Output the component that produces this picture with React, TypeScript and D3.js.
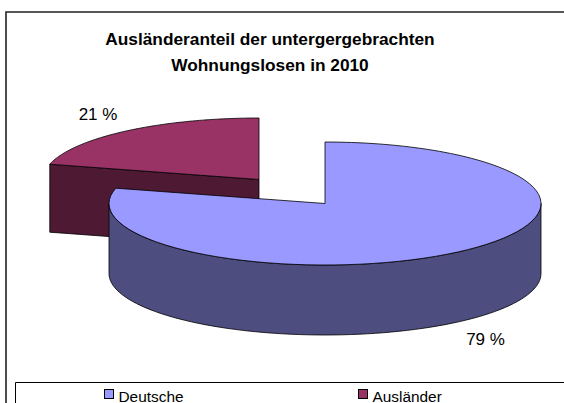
import React from "react";
import * as d3 from "d3";

const categories = ["Deutsche", "Ausländer"];
const shares = [79, 21];
const shareLabels = ["79 %", "21 %"];
const titleLines = ["Ausländeranteil der untergergebrachten", "Wohnungslosen in 2010"];
const topColors = ["#9999ff", "#993366"];
const sideColors = ["#4d4d80", "#4d1933"];

const width = 564;
const height = 403;
const font = "'Liberation Sans', Arial, sans-serif";

// pie ellipse
const rx = 216;
const ry = 61.5;
const centers = [
  { x: 325, y: 203.5, depth: 70 },
  { x: 259, y: 179.5, depth: 68 },
];

const slices = d3.pie<number>().sort(null)(shares);

const point = (c: { x: number; y: number }, a: number, dy = 0): [number, number] => [
  c.x + rx * Math.sin(a),
  c.y - ry * Math.cos(a) + dy,
];

const arcPoints = (c: { x: number; y: number }, a0: number, a1: number, dy = 0) => {
  const n = 80;
  const angle = d3.scaleLinear().domain([0, n]).range([a0, a1]);
  return d3.range(n + 1).map((i) => point(c, angle(i), dy));
};

const line = d3.line();

function topPath(i: number) {
  const c = centers[i];
  const s = slices[i];
  return line([[c.x, c.y], ...arcPoints(c, s.startAngle, s.endAngle)]) + "Z";
}

// front wall of the big slice, only the part facing the viewer
function bluePath() {
  const c = centers[0];
  const a0 = Math.PI / 2;
  const a1 = (Math.PI * 3) / 2;
  return line([...arcPoints(c, a0, a1), ...arcPoints(c, a1, a0, c.depth)]) + "Z";
}

// cut face of the small slice
function redPath() {
  const c = centers[1];
  const a = slices[1].startAngle;
  return line([point(c, a), [c.x, c.y], [c.x, c.y + c.depth], point(c, a, c.depth)]) + "Z";
}

export default function App() {
  return (
    <svg
      width={width}
      height={height}
      style={{ position: "absolute", left: 0, top: 0, background: "#fff" }}
    >
      <path d={`M6,${height}V12H${width}`} fill="none" stroke="#222" strokeWidth={1.6} />

      {titleLines.map((t, i) => (
        <text
          key={t}
          x={270}
          y={45 + i * 26}
          textAnchor="middle"
          fontFamily={font}
          fontSize={17.3}
          fontWeight="bold"
        >
          {t}
        </text>
      ))}

      <g stroke="#000" strokeWidth={0.8} strokeLinejoin="round">
        <path d={redPath()} fill={sideColors[1]} />
        <path d={topPath(1)} fill={topColors[1]} />
        <path d={bluePath()} fill={sideColors[0]} />
        <path d={topPath(0)} fill={topColors[0]} />
      </g>

      <text x={485.5} y={345} textAnchor="middle" fontFamily={font} fontSize={17}>
        {shareLabels[0]}
      </text>
      <text x={98} y={120} textAnchor="middle" fontFamily={font} fontSize={17}>
        {shareLabels[1]}
      </text>

      <path d={`M15.5,${height}V382.5H${width}`} fill="none" stroke="#000" strokeWidth={1} />
      {categories.map((name, i) => {
        const x = 104.5 + i * 254;
        return (
          <g key={name}>
            <rect x={x} y={389.5} width={9} height={9} fill={topColors[i]} stroke="#000" strokeWidth={1} />
            <text x={x + 14} y={402} fontFamily={font} fontSize={15.4}>
              {name}
            </text>
          </g>
        );
      })}
    </svg>
  );
}
